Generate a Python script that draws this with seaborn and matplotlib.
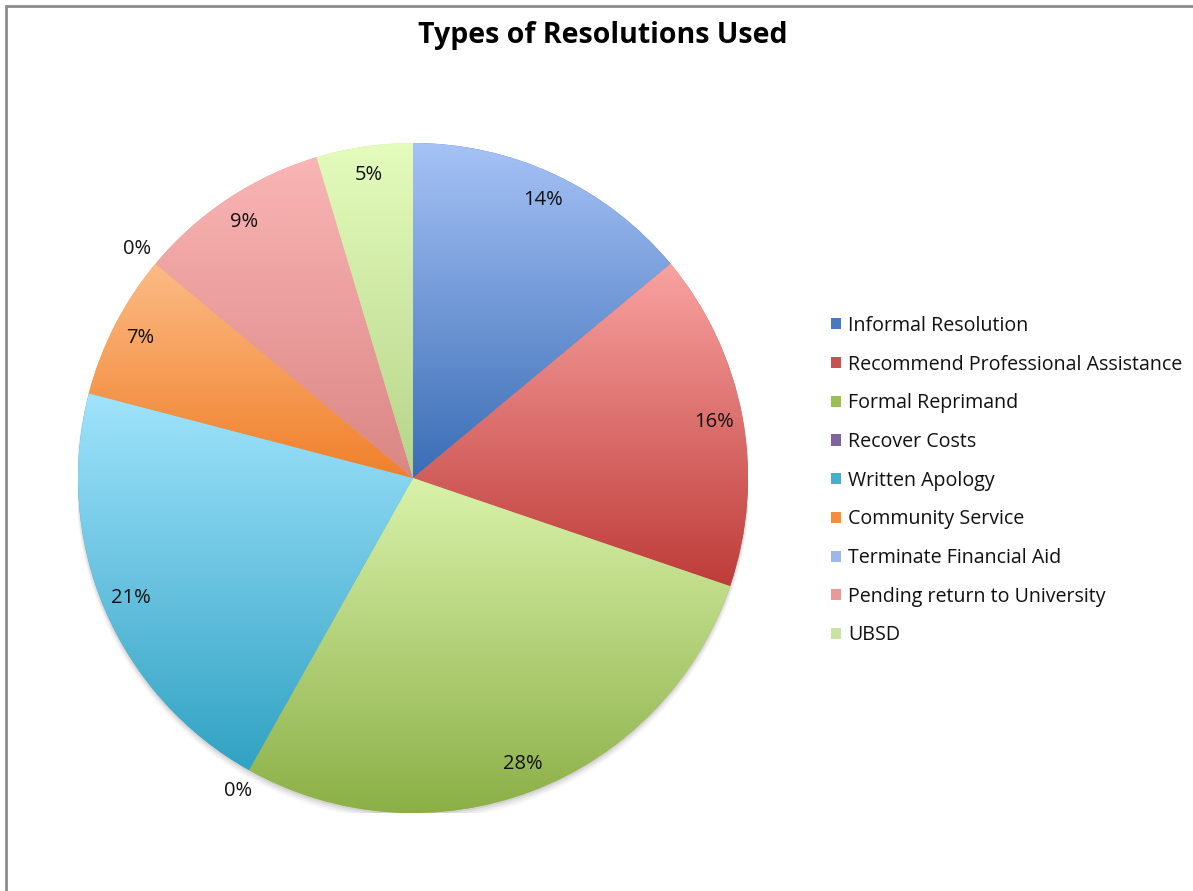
import numpy as np
import matplotlib
matplotlib.use("Agg")
import matplotlib.pyplot as plt
import seaborn as sns
from matplotlib.colors import LinearSegmentedColormap
from matplotlib.patches import Circle, Patch
from matplotlib.lines import Line2D

categories = ["Informal Resolution", "Recommend Professional Assistance", "Formal Reprimand",
              "Recover Costs", "Written Apology", "Community Service",
              "Terminate Financial Aid", "Pending return to University", "UBSD"]
counts = [6, 7, 12, 0, 9, 3, 0, 4, 2]
top_colors = ["#A6C2F6", "#F9A3A1", "#D9F2AA", "#B49FD0", "#A0E3FC", "#FCBB86",
              "#C6D6F6", "#FAB5B5", "#E4FCBC"]
bottom_colors = ["#3A6DB5", "#BE3C39", "#8BAF46", "#7D5FA0", "#31A2C3", "#F0802A",
                 "#9DB5E4", "#DA8684", "#B6D48A"]
legend_colors = ["#4A79C0", "#C95250", "#9ABE58", "#8064A2", "#45AECB", "#F48E3E",
                 "#9DB8E8", "#E79A99", "#C9E4A2"]

sns.set_theme(style="white")
plt.rcParams["font.family"] = ["Open Sans", "DejaVu Sans"]

W, H = 1193, 891
fig = plt.figure(figsize=(W / 100, H / 100), dpi=100)
fig.patch.set_facecolor("white")

cx, cy, R = 413, 478, 335
ax = fig.add_axes([(cx - R) / W, (H - cy - R) / H, 2 * R / W, 2 * R / H])

# soft shadow
for i, a in enumerate([0.10, 0.08, 0.06, 0.04]):
    ax.add_patch(Circle((0, -0.006 - 0.004 * i), 1.0 + 0.002 * i, color="#555555",
                        alpha=a, lw=0, zorder=0))

wedges, _ = ax.pie(counts, startangle=90, counterclock=False, radius=1.0,
                   colors=legend_colors, wedgeprops=dict(linewidth=0))

total = sum(counts)
for w, v, ct, cb in zip(wedges, counts, top_colors, bottom_colors):
    w.set_zorder(1)
    if v > 0:
        verts = w.get_path().vertices
        xmin, xmax = verts[:, 0].min(), verts[:, 0].max()
        ymin, ymax = verts[:, 1].min(), verts[:, 1].max()
        cmap = LinearSegmentedColormap.from_list("g", [ct, cb])
        grad = np.linspace(0, 1, 256).reshape(-1, 1)
        im = ax.imshow(grad, cmap=cmap, extent=[xmin, xmax, ymin, ymax],
                       origin="upper", aspect="auto", zorder=2, interpolation="bilinear")
        im.set_clip_path(w)
    mid = np.deg2rad((w.theta1 + w.theta2) / 2)
    rr = 0.915 if v > 0 else 1.07
    pct = 100.0 * v / total
    ax.text(rr * np.cos(mid), rr * np.sin(mid), f"{pct:.0f}%", ha="center", va="center",
            fontsize=14.5, color="#111111", zorder=5)

ax.set_xlim(-1, 1)
ax.set_ylim(-1, 1)
ax.set_aspect("equal")
ax.axis("off")

handles = [Patch(facecolor=c, edgecolor="none") for c in legend_colors]
leg = fig.legend(handles, categories, loc="upper left",
                 bbox_to_anchor=(823 / W, 1 - 308 / H), frameon=False,
                 fontsize=14.1, handlelength=0.5, handleheight=0.5,
                 handletextpad=0.38, labelspacing=0.955, borderaxespad=0)
for t in leg.get_texts():
    t.set_color("#111111")

fig.text(603 / W, 1 - 35 / H, "Types of Resolutions Used", ha="center", va="center",
         fontsize=20.5, fontweight="bold", color="#000000")

fig.add_artist(Line2D([6.5 / W, 6.5 / W], [0, 1 - 5.5 / H], transform=fig.transFigure,
                      color="#8c8c8c", lw=2))
fig.add_artist(Line2D([6.5 / W, 1], [1 - 5.5 / H, 1 - 5.5 / H], transform=fig.transFigure,
                      color="#8c8c8c", lw=2))

fig.savefig("out.png", dpi=100, facecolor="white")
